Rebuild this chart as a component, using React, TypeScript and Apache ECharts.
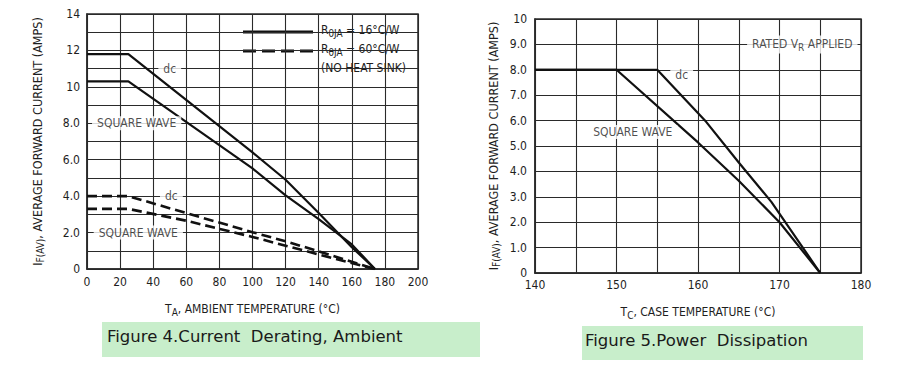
import React, { useEffect, useRef } from "react";
import * as echarts from "echarts";

// Figure 4 (ambient derating) data: [temperature °C, current A]
const ambDcHeatSink: number[][] = [[0, 11.8], [25, 11.8], [100, 6.4], [120, 4.9], [140, 3.07], [160, 1.2], [174, 0]];
const ambSqHeatSink: number[][] = [[0, 10.3], [25, 10.3], [100, 5.52], [120, 4.04], [140, 2.74], [160, 1.35], [174, 0]];
const ambDcNoSink: number[][] = [[0, 4.0], [25, 4.0], [60, 3.07], [100, 2.02], [120, 1.52], [140, 0.97], [174, 0]];
const ambSqNoSink: number[][] = [[0, 3.3], [25, 3.3], [60, 2.65], [100, 1.76], [120, 1.28], [140, 0.8], [174, 0]];

// Figure 5 (case temperature) data
const caseDc: number[][] = [[140, 8], [155, 8], [161, 5.95], [165, 4.35], [169, 2.8], [175, 0]];
const caseSq: number[][] = [[140, 8], [150, 8], [160, 5.14], [165, 3.63], [170, 2.0], [175, 0]];

// Annotations in data coordinates
const ambNotes = [
  { value: [50, 11], text: "dc" },
  { value: [30, 8], text: "SQUARE WAVE" },
  { value: [51, 4], text: "dc" },
  { value: [31, 2], text: "SQUARE WAVE" },
];
const caseNotes = [
  { value: [172.8, 9], text: "RATED V{s|R} APPLIED" },
  { value: [158, 7.8], text: "dc" },
  { value: [152, 5.55], text: "SQUARE WAVE" },
];

const legendTexts = ["R{s|θJA} = 16°C/W", "R{s|θJA} = 60°C/W", "(NO HEAT SINK)"];
const captions = ["Figure 4.Current  Derating, Ambient", "Figure 5.Power  Dissipation"];

const NARROW = "'Liberation Sans Narrow', 'DejaVu Sans Condensed', 'Liberation Sans', sans-serif";
const CAPTION_FONT = "'DejaVu Sans', 'Liberation Sans', sans-serif";
const INK = "#1e1e1e";
const GRID = "#2a2a2a";
const subRich = { s: { fontSize: 10, fontFamily: NARROW, color: INK, padding: [6, 0, 0, 0] } };

function fmtY(v: number) {
  if (v === 0) return "0";
  if (v >= 10) return String(v);
  return v.toFixed(1);
}

export default function App() {
  const ref = useRef<HTMLDivElement>(null);
  useEffect(() => {
    if (!ref.current) return;
    const chart = echarts.init(ref.current, null, { renderer: "svg" });
    const lineBase = (data: number[][], idx: number, dashed: boolean) => ({
      type: "line",
      xAxisIndex: idx,
      yAxisIndex: idx,
      data,
      symbol: "none",
      lineStyle: { color: "#111", width: dashed ? 2.6 : 2.2, type: dashed ? [10, 5] : "solid" },
      z: 5,
    });
    const noteSeries = (data: any[], idx: number) => ({
      type: "scatter",
      xAxisIndex: idx,
      yAxisIndex: idx,
      symbolSize: 0,
      data: data.map((d) => ({ value: d.value, name: d.text })),
      label: {
        show: true,
        position: "inside",
        formatter: (p: any) => p.name,
        color: INK,
        fontSize: 12,
        fontFamily: NARROW,
        backgroundColor: "#fff",
        padding: [1, 5],
        rich: subRich,
      },
      z: 6,
    });
    const axisLabelStyle = { color: INK, fontSize: 12, fontFamily: NARROW };
    chart.setOption({
      animation: false,
      backgroundColor: "#fff",
      grid: [
        { left: 87, top: 14, width: 331, height: 255, show: true, borderColor: GRID, borderWidth: 1.5, backgroundColor: "transparent" },
        { left: 535, top: 19, width: 326, height: 254, show: true, borderColor: GRID, borderWidth: 1.5, backgroundColor: "transparent" },
      ],
      xAxis: [
        {
          type: "value", gridIndex: 0, min: 0, max: 200, interval: 20,
          axisLine: { show: true, lineStyle: { color: GRID, width: 1.5 } },
          axisTick: { show: false },
          splitLine: { show: true, lineStyle: { color: GRID, width: 1.1 } },
          axisLabel: { ...axisLabelStyle, margin: 7 },
          name: "T{s|A}, AMBIENT TEMPERATURE (°C)",
          nameLocation: "middle", nameGap: 32,
          nameTextStyle: { ...axisLabelStyle, rich: subRich },
        },
        {
          type: "value", gridIndex: 1, min: 140, max: 180, interval: 5,
          axisLine: { show: true, lineStyle: { color: GRID, width: 1.5 } },
          axisTick: { show: false },
          splitLine: { show: true, lineStyle: { color: GRID, width: 1.1 } },
          axisLabel: { ...axisLabelStyle, margin: 6, formatter: (v: number) => (v % 10 === 0 ? String(v) : "") },
          name: "T{s|C}, CASE TEMPERATURE (°C)",
          nameLocation: "middle", nameGap: 31,
          nameTextStyle: { ...axisLabelStyle, rich: subRich },
        },
      ],
      yAxis: [
        {
          type: "value", gridIndex: 0, min: 0, max: 14, interval: 1,
          axisLine: { show: true, lineStyle: { color: GRID, width: 1.5 } },
          axisTick: { show: false },
          splitLine: { show: true, lineStyle: { color: GRID, width: 1.1 } },
          axisLabel: { ...axisLabelStyle, margin: 7, formatter: (v: number) => (v % 2 === 0 ? fmtY(v) : "") },
          name: "I{s|F(AV)}, AVERAGE FORWARD CURRENT (AMPS)",
          nameLocation: "middle", nameRotate: 90, nameGap: 42,
          nameTextStyle: { ...axisLabelStyle, fontSize: 12.5, rich: subRich },
        },
        {
          type: "value", gridIndex: 1, min: 0, max: 10, interval: 1,
          axisLine: { show: true, lineStyle: { color: GRID, width: 1.5 } },
          axisTick: { show: false },
          splitLine: { show: true, lineStyle: { color: GRID, width: 1.1 } },
          axisLabel: { ...axisLabelStyle, margin: 8, formatter: (v: number) => fmtY(v) },
          name: "I{s|F(AV)}, AVERAGE FORWARD CURRENT (AMPS)",
          nameLocation: "middle", nameRotate: 90, nameGap: 34,
          nameTextStyle: { ...axisLabelStyle, fontSize: 12.5, rich: subRich },
        },
      ],
      series: [
        lineBase(ambDcHeatSink, 0, false),
        lineBase(ambSqHeatSink, 0, false),
        lineBase(ambDcNoSink, 0, true),
        lineBase(ambSqNoSink, 0, true),
        lineBase(caseDc, 1, false),
        lineBase(caseSq, 1, false),
        noteSeries(ambNotes, 0),
        noteSeries(caseNotes, 1),
      ],
      graphic: [
        {
          type: "group", z: 20,
          children: [
            { type: "rect", shape: { x: 233, y: 15, width: 179, height: 66 }, style: { fill: "#fff" } },
            { type: "line", shape: { x1: 243, y1: 32, x2: 313, y2: 32 }, style: { stroke: "#111", lineWidth: 3.2 } },
            { type: "line", shape: { x1: 243, y1: 51, x2: 313, y2: 51 }, style: { stroke: "#111", lineWidth: 3.2, lineDash: [13, 6] } },
            ...legendTexts.map((t, i) => ({
              type: "text", x: 321, y: 30 + i * 19,
              style: { text: t, fill: INK, fontSize: 12, fontFamily: NARROW, verticalAlign: "middle", rich: subRich },
            })),
          ],
        },
        {
          type: "group", z: 20,
          children: [
            { type: "rect", shape: { x: 102, y: 322, width: 378, height: 35 }, style: { fill: "#c8eecb" } },
            { type: "text", x: 107, y: 336, style: { text: captions[0], fill: "#1a1a1a", fontSize: 16.5, fontFamily: CAPTION_FONT, verticalAlign: "middle" } },
            { type: "rect", shape: { x: 582, y: 326, width: 281, height: 34 }, style: { fill: "#c8eecb" } },
            { type: "text", x: 585, y: 340, style: { text: captions[1], fill: "#1a1a1a", fontSize: 16.5, fontFamily: CAPTION_FONT, verticalAlign: "middle" } },
          ],
        },
      ],
    });
    return () => chart.dispose();
  }, []);
  return <div ref={ref} style={{ position: "fixed", left: 0, top: 0, width: 900, height: 378, background: "#fff" }} />;
}
